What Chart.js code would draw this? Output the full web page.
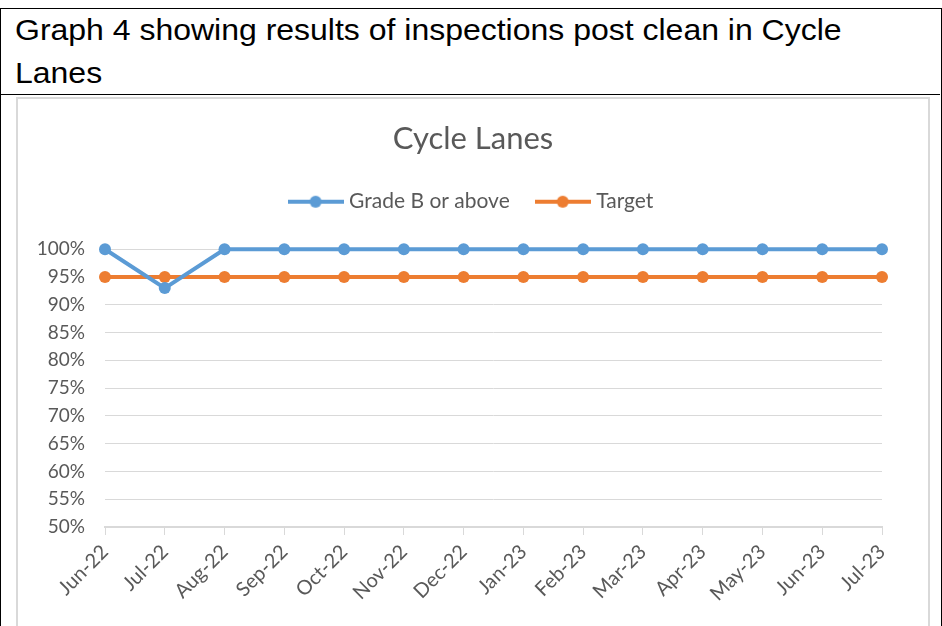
<!DOCTYPE html>
<html>
<head>
<meta charset="utf-8">
<script src="https://cdn.jsdelivr.net/npm/chart.js@4.4.1/dist/chart.umd.min.js"></script>
<style>
  html, body { margin: 0; padding: 0; background: #fff; width: 942px; height: 626px; overflow: hidden; }
  .frame { position: absolute; left: 0; top: 8px; width: 940px; height: 640px; border: 1px solid #000; }
  .head { position: absolute; left: 0; top: 8px; width: 940px; height: 86px; border-bottom: 1px solid #000; }
  .head p { margin: 0; position: absolute; left: 15px; top: 0px; font-family: "Liberation Sans", Arial, sans-serif; font-size: 30px; line-height: 43px; color: #000; white-space: nowrap; transform: scaleX(1.066); transform-origin: 0 0; }
  .box { position: absolute; left: 16px; top: 97px; width: 910px; height: 535px; border: 2px solid #d9d9d9; }
  .box canvas { display: block; }
</style>
</head>
<body>
<div class="frame"></div>
<div class="head"><p>Graph 4 showing results of inspections post clean in Cycle<br>Lanes</p></div>
<div class="box"><canvas id="chart" width="910" height="528"></canvas></div>
<script>
// Cycle lanes inspection data
const months = ['Jun-22', 'Jul-22', 'Aug-22', 'Sep-22', 'Oct-22', 'Nov-22', 'Dec-22',
                'Jan-23', 'Feb-23', 'Mar-23', 'Apr-23', 'May-23', 'Jun-23', 'Jul-23'];
const gradeB = [1.00, 0.93, 1.00, 1.00, 1.00, 1.00, 1.00, 1.00, 1.00, 1.00, 1.00, 1.00, 1.00, 1.00];
const target = [0.95, 0.95, 0.95, 0.95, 0.95, 0.95, 0.95, 0.95, 0.95, 0.95, 0.95, 0.95, 0.95, 0.95];
const yTicks = [0.50, 0.55, 0.60, 0.65, 0.70, 0.75, 0.80, 0.85, 0.90, 0.95, 1.00];

const blue = '#5b9bd5';
const orange = '#ed7d31';
const grey = '#595959';
const fontName = 'Lato, "Open Sans", sans-serif';

function legendMarker(color) {
    const c = document.createElement('canvas');
    c.width = 56;
    c.height = 14;
    const g = c.getContext('2d');
    g.strokeStyle = color;
    g.lineWidth = 4;
    g.beginPath();
    g.moveTo(0, 7);
    g.lineTo(56, 7);
    g.stroke();
    g.fillStyle = color;
    g.beginPath();
    g.arc(28, 7, 6, 0, Math.PI * 2);
    g.fill();
    return c;
}

const markers = [legendMarker(blue), legendMarker(orange)];

// extra room between the legend and the plot
const legendGap = {
    id: 'legendGap',
    beforeInit(chart) {
        const fit = chart.legend.fit;
        chart.legend.fit = function() {
            fit.call(this);
            this.height += 27;
        };
    }
};

new Chart(document.getElementById('chart').getContext('2d'), {
    type: 'line',
    data: {
        labels: months,
        datasets: [{
            label: 'Grade B or above',
            data: gradeB,
            borderColor: blue,
            backgroundColor: blue,
            borderWidth: 4,
            pointRadius: 6,
            pointHoverRadius: 6,
            pointBorderWidth: 0,
            tension: 0,
            clip: false
        }, {
            label: 'Target',
            data: target,
            borderColor: orange,
            backgroundColor: orange,
            borderWidth: 4,
            pointRadius: 6,
            pointHoverRadius: 6,
            pointBorderWidth: 0,
            tension: 0,
            clip: false
        }]
    },
    options: {
        responsive: false,
        animation: false,
        layout: { padding: { top: 15, right: 0, left: 0, bottom: 0 } },
        plugins: {
            title: {
                display: true,
                text: 'Cycle Lanes',
                color: grey,
                font: { family: fontName, size: 31, weight: 'normal' },
                padding: { top: 6, bottom: 4 }
            },
            legend: {
                position: 'top',
                labels: {
                    usePointStyle: true,
                    pointStyleWidth: 46,
                    color: grey,
                    font: { family: fontName, size: 21 },
                    padding: 30,
                    generateLabels: function(chart) {
                        return chart.data.datasets.map((ds, i) => ({
                            text: ds.label,
                            fillStyle: ds.borderColor,
                            strokeStyle: ds.borderColor,
                            lineWidth: 0,
                            pointStyle: markers[i],
                            fontColor: grey,
                            datasetIndex: i,
                            hidden: false
                        }));
                    }
                }
            },
            tooltip: { enabled: false }
        },
        scales: {
            x: {
                offset: false,
                grid: {
                    display: true,
                    drawOnChartArea: false,
                    drawTicks: true,
                    tickLength: 8,
                    color: '#d9d9d9'
                },
                border: { color: '#d9d9d9', width: 2 },
                ticks: {
                    color: grey,
                    font: { family: fontName, size: 20 },
                    minRotation: 45,
                    maxRotation: 45,
                    autoSkip: false,
                    padding: 5
                },
                afterFit: function(scale) {
                    scale.height = 100;
                    scale.paddingRight = 46;
                }
            },
            y: {
                min: 0.5,
                max: 1.0,
                afterBuildTicks: function(scale) {
                    scale.ticks = yTicks.map(v => ({ value: v }));
                },
                grid: { color: '#d9d9d9', drawTicks: false },
                border: { display: false },
                ticks: {
                    color: grey,
                    font: { family: fontName, size: 19 },
                    padding: 20,
                    callback: function(value) { return Math.round(value * 100) + '%'; }
                },
                afterFit: function(scale) { scale.width = 87; }
            }
        }
    },
    plugins: [legendGap]
});
</script>
</body>
</html>
